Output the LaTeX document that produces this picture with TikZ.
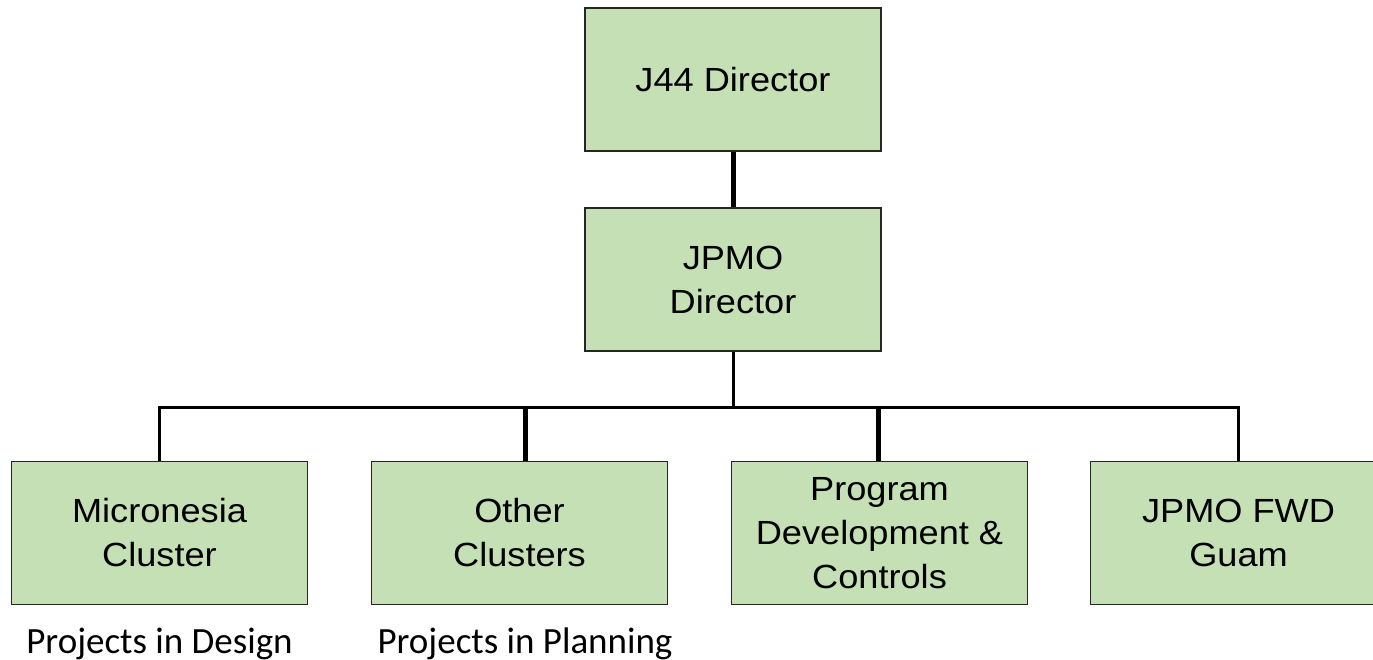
\documentclass[tikz,border=0pt]{standalone}
\usepackage{fontspec}
\setmainfont{Liberation Sans}[FakeStretch=1.08]
\newfontfamily\notefont{Carlito}
\usetikzlibrary{positioning, calc}

\begin{document}
\begin{tikzpicture}[x=1pt, y=-1pt,
    unit/.style={draw=black!85, line width=1.3pt, fill=boxgreen,
        minimum width=296pt, minimum height=143pt, inner sep=0pt, align=center,
        font=\fontsize{33.5}{44}\selectfont},
    link/.style={line width=3pt},
    heavylink/.style={line width=5pt},
    note/.style={anchor=base, font=\notefont\fontsize{37}{40}\selectfont}]
\definecolor{boxgreen}{HTML}{C5E0B4}
\useasboundingbox (0,0) rectangle (1373,660);

% Directors
\node[unit] (j44) at (733,79.5) {J44 Director};
\node[unit] (jpmo) at (733,279.5) {JPMO\\Director};

% Branches
\node[unit] (micro) at (159.5,533) {Micronesia\\Cluster};
\node[unit] (other) at (519.5,533) {Other\\Clusters};
\node[unit] (prog) at (879.5,533) {Program\\Development \&\\Controls};
\node[unit] (fwd) at (1238.5,533) {JPMO FWD\\Guam};

% Connectors
\coordinate (bus) at (733,407);
\draw[heavylink] (j44.south) -- (jpmo.north);
\draw[link] (jpmo.south) -- (bus);
\draw[link] (micro.north) -- (micro.north |- bus) -- (fwd.north |- bus) -- (fwd.north);
\draw[heavylink] ([xshift=5.5pt]other.north) -- ([xshift=5.5pt]other.north |- bus);
\draw[heavylink] ([xshift=-1.5pt]prog.north) -- ([xshift=-1.5pt]prog.north |- bus);

% Notes under the boxes
\node[note] (design) at (159.5,653) {Projects in Design};
\node[note] (planning) at (525,653) {Projects in Planning};
\end{tikzpicture}
\end{document}
